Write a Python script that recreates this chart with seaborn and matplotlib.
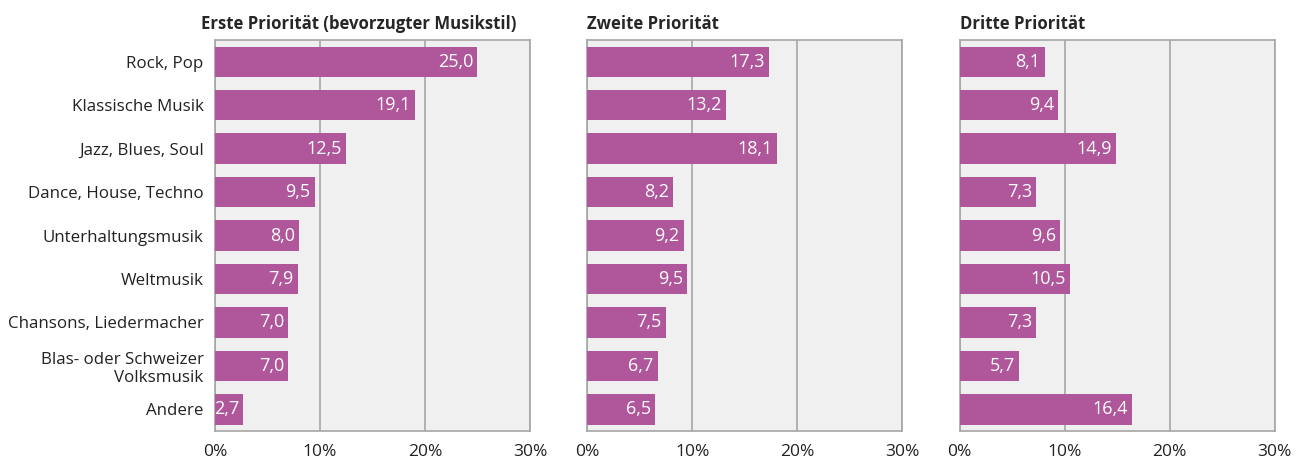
import seaborn as sns
import pandas as pd
import matplotlib.pyplot as plt

categories = ["Rock, Pop", "Klassische Musik", "Jazz, Blues, Soul", "Dance, House, Techno",
              "Unterhaltungsmusik", "Weltmusik", "Chansons, Liedermacher",
              "Blas- oder Schweizer\nVolksmusik", "Andere"]
erste = [25.0, 19.1, 12.5, 9.5, 8.0, 7.9, 7.0, 7.0, 2.7]
zweite = [17.3, 13.2, 18.1, 8.2, 9.2, 9.5, 7.5, 6.7, 6.5]
dritte = [8.1, 9.4, 14.9, 7.3, 9.6, 10.5, 7.3, 5.7, 16.4]
titles = ["Erste Priorität (bevorzugter Musikstil)", "Zweite Priorität", "Dritte Priorität"]
ticks = [0, 10, 20, 30]

sns.set_theme(style="white")
plt.rcParams['font.family'] = ['Open Sans', 'DejaVu Sans']

bar_color = "#b0569a"
grid_color = "#a6a6a6"

fig = plt.figure(figsize=(13.02, 4.61), dpi=100)
lefts = [0.165, 0.451, 0.737]

for i, (vals, title) in enumerate(zip([erste, zweite, dritte], titles)):
    ax = fig.add_axes([lefts[i], 0.065, 0.242, 0.848])
    df = pd.DataFrame({"Kategorie": categories, "Wert": vals})
    sns.barplot(data=df, y="Kategorie", x="Wert", color=bar_color, saturation=1,
                width=0.7, linewidth=0, ax=ax, zorder=3)
    ax.set_facecolor("#f0f0f0")
    ax.set_xlim(0, 30)
    ax.set_ylim(len(categories) - 0.5, -0.5)
    ax.set_xticks(ticks)
    ax.set_xticklabels([f"{t}%" for t in ticks], fontsize=12.5, color="#222222")
    ax.xaxis.grid(True, color=grid_color, linewidth=1.2, zorder=0)
    ax.set_axisbelow(True)
    ax.tick_params(axis="x", length=5, width=1.2, color=grid_color, direction="out", pad=4)
    ax.tick_params(axis="y", length=0, pad=8)
    for s in ax.spines.values():
        s.set_color(grid_color)
        s.set_linewidth(1.2)
    ax.set_xlabel("")
    ax.set_ylabel("")
    if i == 0:
        ax.set_yticklabels(categories, fontsize=12.2, color="#222222")
    else:
        ax.set_yticklabels([])
    for j, v in enumerate(vals):
        ax.text(v - 0.4, j, f"{v:.1f}".replace(".", ","), ha="right", va="center",
                color="white", fontsize=13, zorder=4)
    ax.set_title(title, loc="left", fontsize=12.1, fontweight="bold", pad=8,
                 x=-0.045 if i == 0 else 0.0)

fig.savefig("out.png", dpi=100)
